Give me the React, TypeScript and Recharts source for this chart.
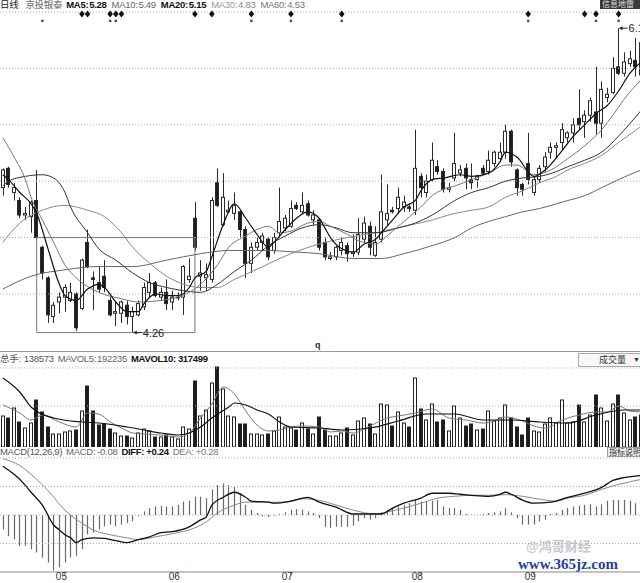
import { Bar, ComposedChart, Line, ReferenceLine, XAxis, YAxis } from "recharts";

const FONT = 'Arial, "Liberation Sans", "Noto Sans CJK SC", sans-serif';

// open, high, low, close for each trading day
const CANDLES: [number, number, number, number][] = [
  [5.16, 5.28, 5.11, 5.27], [5.28, 5.29, 5.16, 5.18], [5.13, 5.19, 5.08, 5.16], [5.08, 5.1, 4.97, 4.99],
  [4.99, 5.04, 4.96, 5.0], [4.98, 5.08, 4.88, 5.07], [5.08, 5.27, 4.84, 4.85], [4.79, 4.8, 4.59, 4.63],
  [4.6, 4.61, 4.32, 4.37], [4.36, 4.45, 4.32, 4.43], [4.45, 4.51, 4.38, 4.48], [4.48, 4.56, 4.39, 4.54],
  [4.46, 4.57, 4.45, 4.51], [4.5, 4.51, 4.27, 4.29], [4.41, 4.72, 4.4, 4.71], [4.82, 4.9, 4.66, 4.67],
  [4.6, 4.64, 4.4, 4.59], [4.57, 4.67, 4.51, 4.53], [4.61, 4.71, 4.51, 4.54], [4.46, 4.48, 4.36, 4.37],
  [4.38, 4.45, 4.3, 4.39], [4.38, 4.46, 4.32, 4.45], [4.43, 4.46, 4.31, 4.36], [4.36, 4.42, 4.26, 4.39],
  [4.37, 4.46, 4.36, 4.44], [4.42, 4.57, 4.4, 4.54], [4.51, 4.63, 4.48, 4.57], [4.57, 4.58, 4.48, 4.49],
  [4.48, 4.54, 4.46, 4.51], [4.51, 4.59, 4.4, 4.44], [4.45, 4.52, 4.4, 4.48], [4.48, 4.51, 4.46, 4.48],
  [4.48, 4.68, 4.37, 4.67], [4.59, 4.72, 4.57, 4.61], [4.97, 5.07, 4.77, 4.79], [4.61, 4.71, 4.52, 4.63],
  [4.6, 4.69, 4.52, 4.62], [4.59, 5.1, 4.57, 5.08], [5.19, 5.28, 5.04, 5.05], [4.93, 5.25, 4.92, 5.1],
  [5.01, 5.08, 5.0, 5.02], [5.0, 5.13, 4.96, 5.05], [5.01, 5.02, 4.85, 4.9], [4.9, 4.92, 4.6, 4.69],
  [4.69, 4.82, 4.63, 4.79], [4.79, 4.85, 4.77, 4.82], [4.82, 4.88, 4.77, 4.86], [4.84, 4.85, 4.71, 4.73],
  [4.77, 4.88, 4.75, 4.85], [4.88, 5.16, 4.85, 4.95], [4.91, 4.99, 4.89, 4.97], [4.92, 5.08, 4.91, 5.03],
  [5.05, 5.07, 5.02, 5.03], [5.01, 5.13, 5.0, 5.05], [5.06, 5.08, 4.98, 4.99], [4.96, 5.02, 4.93, 4.99],
  [4.96, 4.97, 4.77, 4.79], [4.82, 4.85, 4.71, 4.73], [4.72, 4.76, 4.71, 4.73], [4.73, 4.8, 4.71, 4.79],
  [4.77, 4.85, 4.74, 4.82], [4.8, 4.82, 4.7, 4.75], [4.75, 4.87, 4.73, 4.76], [4.76, 4.97, 4.74, 4.87],
  [4.84, 4.98, 4.82, 4.94], [4.92, 4.95, 4.74, 4.79], [4.74, 4.92, 4.73, 4.82], [4.84, 5.24, 4.82, 5.01],
  [4.96, 5.18, 4.92, 5.0], [5.02, 5.04, 5.0, 5.01], [5.03, 5.16, 5.0, 5.1], [5.04, 5.11, 5.01, 5.07],
  [5.04, 5.06, 5.01, 5.03], [5.02, 5.52, 4.99, 5.28], [5.23, 5.25, 5.1, 5.16], [5.13, 5.24, 5.1, 5.2],
  [5.21, 5.44, 5.2, 5.33], [5.29, 5.33, 5.24, 5.26], [5.26, 5.28, 5.13, 5.15], [5.15, 5.19, 5.13, 5.16],
  [5.22, 5.5, 5.2, 5.31], [5.25, 5.3, 5.23, 5.27], [5.28, 5.31, 5.15, 5.22], [5.21, 5.31, 5.15, 5.19],
  [5.21, 5.24, 5.16, 5.23], [5.28, 5.3, 5.24, 5.25], [5.26, 5.39, 5.24, 5.33], [5.31, 5.39, 5.29, 5.38],
  [5.34, 5.44, 5.32, 5.38], [5.38, 5.55, 5.34, 5.51], [5.51, 5.52, 5.29, 5.32], [5.27, 5.28, 5.11, 5.16],
  [5.18, 5.19, 5.11, 5.15], [5.31, 5.5, 5.18, 5.21], [5.13, 5.23, 5.11, 5.21], [5.21, 5.3, 5.19, 5.28],
  [5.29, 5.38, 5.26, 5.35], [5.38, 5.44, 5.34, 5.41], [5.41, 5.44, 5.34, 5.42], [5.44, 5.56, 5.39, 5.52],
  [5.47, 5.51, 5.44, 5.5], [5.5, 5.59, 5.44, 5.55], [5.59, 5.77, 5.52, 5.55], [5.57, 5.64, 5.47, 5.61],
  [5.61, 5.72, 5.57, 5.7], [5.63, 5.91, 5.49, 5.56], [5.56, 5.82, 5.47, 5.77], [5.72, 5.78, 5.69, 5.74],
  [5.75, 5.97, 5.74, 5.9], [5.91, 6.15, 5.86, 5.87], [5.87, 6.0, 5.85, 5.94], [5.93, 6.01, 5.91, 5.96],
  [5.95, 6.09, 5.85, 5.91], [5.86, 6.11, 5.83, 6.06],
];

const VOLUME = [
  310000, 290000, 390000, 250000, 190000, 240000, 470000, 350000, 200000, 130000, 130000, 150000,
  160000, 170000, 360000, 610000, 360000, 220000, 230000, 180000, 140000, 110000, 110000, 90000,
  140000, 180000, 160000, 100000, 100000, 120000, 100000, 80000, 200000, 180000, 660000, 310000,
  370000, 640000, 800000, 580000, 310000, 300000, 230000, 230000, 130000, 130000, 120000, 130000,
  160000, 300000, 200000, 190000, 170000, 240000, 180000, 130000, 300000, 170000, 110000, 110000,
  140000, 190000, 120000, 260000, 290000, 230000, 130000, 430000, 420000, 210000, 350000, 240000,
  200000, 690000, 380000, 270000, 430000, 250000, 270000, 160000, 410000, 290000, 210000, 230000,
  170000, 180000, 360000, 260000, 290000, 420000, 290000, 200000, 120000, 290000, 160000, 150000,
  230000, 290000, 240000, 470000, 240000, 250000, 420000, 250000, 320000, 520000, 390000, 260000,
  430000, 520000, 340000, 270000, 300000, 320000,
];

// moving averages as [day, value]
const MA5: [number, number][] = [
  [0, 5.24], [1, 5.21], [3, 5.13], [5, 5.06], [6, 5.0], [8, 4.78], [10, 4.56], [11, 4.49], [13, 4.46],
  [15, 4.53], [17, 4.56], [18, 4.54], [20, 4.45], [22, 4.39], [24, 4.39], [25, 4.44], [27, 4.5],
  [29, 4.49], [31, 4.49], [33, 4.54], [34, 4.6], [36, 4.64], [37, 4.73], [39, 4.93], [41, 5.06],
  [43, 4.97], [45, 4.87], [47, 4.79], [48, 4.82], [50, 4.9], [52, 4.97], [54, 5.01], [56, 4.97],
  [57, 4.91], [58, 4.85], [60, 4.78], [62, 4.76], [64, 4.81], [66, 4.84], [67, 4.88], [69, 4.96],
  [71, 5.04], [73, 5.08], [74, 5.14], [76, 5.21], [78, 5.22], [81, 5.24], [83, 5.23], [86, 5.25],
  [88, 5.32], [89, 5.38], [91, 5.35], [94, 5.23], [96, 5.27], [99, 5.39], [101, 5.48], [103, 5.55],
  [105, 5.62], [107, 5.67], [109, 5.76], [111, 5.87], [113, 5.94],
];
const MA10: [number, number][] = [
  [0, 5.47], [2, 5.35], [4, 5.21], [5, 5.1], [7, 4.96], [9, 4.82], [11, 4.68], [13, 4.6], [17, 4.51],
  [21, 4.47], [24, 4.45], [28, 4.46], [31, 4.48], [35, 4.56], [38, 4.68], [40, 4.79], [43, 4.86],
  [45, 4.9], [47, 4.92], [49, 4.88], [51, 4.89], [54, 4.94], [56, 4.95], [58, 4.92], [61, 4.87],
  [63, 4.83], [66, 4.81], [68, 4.86], [70, 4.92], [72, 4.98], [74, 5.04], [76, 5.11], [78, 5.15],
  [80, 5.17], [83, 5.21], [86, 5.25], [89, 5.3], [91, 5.3], [94, 5.24], [97, 5.27], [100, 5.34],
  [103, 5.42], [106, 5.52], [108, 5.61], [110, 5.71], [113, 5.83],
];
const MA20: [number, number][] = [
  [0, 5.17], [1, 5.2], [4, 5.23], [7, 5.24], [9, 5.22], [11, 5.13], [12, 5.04], [15, 4.88], [17, 4.78],
  [20, 4.71], [23, 4.63], [26, 4.57], [29, 4.54], [32, 4.52], [35, 4.51], [38, 4.56], [41, 4.64],
  [44, 4.71], [47, 4.8], [50, 4.86], [53, 4.91], [56, 4.93], [59, 4.91], [62, 4.88], [66, 4.88],
  [70, 4.91], [73, 4.94], [76, 4.99], [80, 5.08], [83, 5.13], [86, 5.16], [89, 5.2], [92, 5.22],
  [95, 5.23], [98, 5.26], [100, 5.29], [103, 5.33], [106, 5.38], [109, 5.48], [113, 5.64],
];
const MA30: [number, number][] = [
  [0, 4.82], [3, 4.94], [7, 5.02], [11, 5.05], [15, 5.02], [18, 4.98], [21, 4.88], [23, 4.79],
  [26, 4.69], [29, 4.61], [32, 4.56], [35, 4.54], [38, 4.54], [41, 4.59], [46, 4.67], [51, 4.75],
  [56, 4.81], [61, 4.85], [66, 4.88], [71, 4.92], [75, 4.95], [80, 5.0], [83, 5.02], [86, 5.04],
  [89, 5.1], [92, 5.14], [95, 5.19], [98, 5.23], [100, 5.27], [103, 5.31], [106, 5.36], [109, 5.44],
  [113, 5.54],
];
const MA60: [number, number][] = [
  [0, 4.53], [5, 4.61], [11, 4.65], [17, 4.67], [23, 4.67], [29, 4.71], [35, 4.75], [40, 4.77],
  [46, 4.77], [52, 4.76], [56, 4.75], [62, 4.72], [67, 4.72], [71, 4.75], [76, 4.8], [80, 4.85],
  [83, 4.91], [86, 4.95], [89, 4.98], [92, 5.01], [95, 5.03], [98, 5.06], [100, 5.08], [103, 5.11],
  [106, 5.16], [109, 5.21], [113, 5.27],
];

const MAVOL5: [number, number][] = [
  [0, 420000], [3, 340000], [5, 270000], [7, 320000], [10, 250000], [13, 200000], [15, 340000],
  [17, 330000], [19, 250000], [21, 190000], [23, 140000], [25, 130000], [28, 120000], [31, 100000],
  [33, 140000], [35, 290000], [37, 430000], [39, 600000], [41, 530000], [43, 360000], [45, 220000],
  [47, 160000], [49, 170000], [51, 200000], [53, 210000], [56, 200000], [58, 150000], [60, 160000],
  [62, 140000], [65, 210000], [68, 290000], [70, 310000], [73, 340000], [76, 380000], [79, 290000],
  [82, 270000], [85, 240000], [87, 260000], [89, 300000], [92, 260000], [94, 210000], [96, 190000],
  [99, 270000], [102, 320000], [105, 350000], [107, 350000], [109, 410000], [111, 360000], [113, 350000],
];
const MAVOL10: [number, number][] = [
  [0, 690000], [3, 550000], [5, 400000], [9, 290000], [14, 250000], [17, 240000], [22, 200000],
  [25, 170000], [28, 140000], [31, 120000], [33, 140000], [35, 200000], [37, 290000], [40, 400000],
  [41, 440000], [43, 420000], [45, 370000], [47, 330000], [49, 250000], [51, 200000], [56, 190000],
  [60, 170000], [65, 190000], [70, 260000], [75, 330000], [80, 330000], [85, 270000], [90, 270000],
  [95, 250000], [100, 240000], [105, 320000], [110, 370000], [113, 370000],
];

const MACD_HIST = [
  -0.071, -0.104, -0.12, -0.152, -0.152, -0.168, -0.184, -0.209, -0.233, -0.273, -0.257, -0.233,
  -0.209, -0.2, -0.168, -0.095, -0.087, -0.071, -0.055, -0.047, -0.055, -0.047, -0.039, -0.031,
  -0.006, 0.018, 0.034, 0.042, 0.045, 0.042, 0.042, 0.05, 0.066, 0.07, 0.09, 0.09,
  0.083, 0.126, 0.147, 0.155, 0.147, 0.139, 0.107, 0.05, 0.026, 0.01, -0.006, -0.01,
  -0.003, 0.006, 0.013, 0.026, 0.029, 0.026, 0.018, 0.01, -0.015, -0.058, -0.063, -0.058,
  -0.058, -0.058, -0.052, -0.031, -0.015, -0.023, -0.015, 0.013, 0.023, 0.034, 0.042, 0.05,
  0.058, 0.074, 0.066, 0.066, 0.07, 0.074, 0.042, 0.034, 0.034, 0.026, 0.006, 0.002,
  0.002, 0.006, 0.01, 0.013, 0.018, 0.034, 0.013, -0.015, -0.047, -0.047, -0.047, -0.031,
  -0.023, 0.006, 0.01, 0.026, 0.034, 0.042, 0.045, 0.05, 0.053, 0.042, 0.053, 0.07,
  0.074, 0.074, 0.074, 0.07, 0.058, 0.05,
];
const DIFF: [number, number][] = [
  [0, 0.24], [2, 0.2], [4, 0.146], [5, 0.112], [7, 0.049], [9, -0.049], [10, -0.073], [11, -0.097],
  [12, -0.112], [13, -0.136], [14, -0.121], [16, -0.112], [18, -0.115], [20, -0.126], [22, -0.136],
  [24, -0.121], [26, -0.107], [28, -0.087], [30, -0.082], [33, -0.058], [35, -0.024], [36, -0.01],
  [37, 0.049], [39, 0.087], [41, 0.112], [43, 0.087], [44, 0.068], [47, 0.063], [48, 0.058],
  [51, 0.068], [54, 0.087], [56, 0.063], [59, 0.039], [62, 0.005], [65, 0.005], [67, 0.005],
  [69, 0.034], [71, 0.058], [74, 0.083], [76, 0.107], [79, 0.107], [81, 0.102], [83, 0.097],
  [86, 0.092], [88, 0.102], [89, 0.112], [90, 0.102], [92, 0.073], [94, 0.058], [97, 0.063],
  [100, 0.087], [103, 0.107], [106, 0.136], [108, 0.17], [110, 0.184], [113, 0.194],
];
const DEA: [number, number][] = [
  [0, 0.277], [3, 0.243], [5, 0.2], [8, 0.12], [11, 0.024], [14, -0.04], [16, -0.073], [19, -0.097],
  [22, -0.112], [24, -0.121], [27, -0.107], [30, -0.092], [34, -0.063], [36, -0.034], [38, 0.01],
  [41, 0.049], [43, 0.063], [47, 0.063], [50, 0.063], [53, 0.08], [56, 0.072], [59, 0.049],
  [62, 0.024], [66, 0.005], [68, 0.015], [71, 0.034], [74, 0.058], [77, 0.083], [80, 0.092],
  [83, 0.097], [86, 0.097], [89, 0.1], [92, 0.092], [95, 0.078], [98, 0.068], [100, 0.083],
  [103, 0.097], [106, 0.126], [109, 0.15], [113, 0.175],
];

const DIAMOND_DAYS = [14, 15, 19, 20, 21, 34, 37, 44, 51, 60, 93, 103, 105, 109];
const STAR_DAYS = [7, 19, 20, 44, 51, 60, 93, 105, 109];
const LOW_MARK_DAY = 23;
const HIGH_MARK_DAY = 109;
const BOX_DAYS = [6, 34];
const BOX_PRICES = [4.26, 4.85];

const PRICE_GRID = [4.5, 4.85, 5.2, 5.55, 5.9, 6.25];
const VOL_GRID = [790000, 410000];
const MACD_GRID = [0.28, 0.14, 0, -0.14];
const MONTH_TICKS = [11, 31, 51, 74, 94];
const MONTH_LABELS = ["05", "06", "07", "08", "09"];

// header strips: [text, bold, colour, gap after]
type Seg = [string, boolean, string, number];
const PRICE_HEAD: Seg[] = [
  ["日线", false, "#222", 7], ["京投银泰", false, "#666", 4],
  ["MA5:", true, "#111", 1], ["5.28", true, "#111", 5],
  ["MA10:", false, "#666", 1], ["5.49", false, "#666", 5],
  ["MA20:", true, "#111", 1], ["5.15", true, "#111", 5],
  ["MA30:", false, "#999", 1], ["4.83", false, "#888", 5],
  ["MA60:", false, "#777", 1], ["4.53", false, "#777", 0],
];
const VOL_HEAD: Seg[] = [
  ["总手:", false, "#555", 3], ["138573", false, "#555", 4],
  ["MAVOL5:", false, "#666", 1], ["192235", false, "#666", 4],
  ["MAVOL10:", true, "#111", 2], ["317499", true, "#111", 0],
];
const MACD_HEAD: Seg[] = [
  ["MACD(12,26,9)", false, "#555", 4], ["MACD:", false, "#666", 2], ["-0.08", false, "#666", 4],
  ["DIFF:", true, "#111", 2], ["+0.24", true, "#111", 4],
  ["DEA:", false, "#777", 2], ["+0.28", false, "#777", 0],
];

const DIAMOND_LEVEL = 6.238;
const STAR_LEVEL = 6.195;

const lookup = (pts: [number, number][]) => new Map(pts);
const m5 = lookup(MA5), m10 = lookup(MA10), m20 = lookup(MA20), m30 = lookup(MA30), m60 = lookup(MA60);
const mv5 = lookup(MAVOL5), mv10 = lookup(MAVOL10), dif = lookup(DIFF), dea = lookup(DEA);

const rows = CANDLES.map(([open, high, low, close], day) => ({
  day,
  open,
  high,
  low,
  close,
  range: [low, high],
  ma5: m5.get(day) ?? null,
  ma10: m10.get(day) ?? null,
  ma20: m20.get(day) ?? null,
  ma30: m30.get(day) ?? null,
  ma60: m60.get(day) ?? null,
  vol: VOLUME[day],
  mavol5: mv5.get(day) ?? null,
  mavol10: mv10.get(day) ?? null,
  hist: MACD_HIST[day],
  diff: dif.get(day) ?? null,
  dea: dea.get(day) ?? null,
  diamond: DIAMOND_DAYS.includes(day) ? DIAMOND_LEVEL : null,
  star: STAR_DAYS.includes(day) ? STAR_LEVEL : null,
  lowMark: day === LOW_MARK_DAY ? low : null,
  highMark: day === HIGH_MARK_DAY ? high : null,
}));

const NO_MARGIN = { top: 0, right: 0, bottom: 0, left: 0 };

function CandleShape(props: any) {
  const { x, y, width, height, payload } = props;
  const top = Math.min(y, y + height);
  const bottom = Math.max(y, y + height);
  const span = payload.high - payload.low || 1;
  const toY = (v: number) => top + ((payload.high - v) / span) * (bottom - top);
  const cx = Math.floor(x + width / 2) + 0.5;
  const up = payload.close >= payload.open;
  const bTop = toY(Math.max(payload.open, payload.close));
  const bBot = toY(Math.min(payload.open, payload.close));
  return (
    <g>
      <line x1={cx} x2={cx} y1={top} y2={bottom} stroke="#2a2a2a" />
      <rect
        x={cx - 2}
        y={bTop}
        width={3}
        height={Math.max(0.8, bBot - bTop)}
        fill={up ? "#fff" : "#1c1c1c"}
        stroke="#2a2a2a"
      />
    </g>
  );
}

function VolShape(props: any) {
  const { x, y, width, height, payload } = props;
  const cx = Math.floor(x + width / 2) + 0.5;
  const up = payload.close >= payload.open;
  return (
    <rect
      x={cx - 2}
      y={y}
      width={3}
      height={Math.max(0, height)}
      fill={up ? "#fff" : "#1c1c1c"}
      stroke="#222"
    />
  );
}

function HistShape(props: any) {
  const { x, y, width, height } = props;
  const cx = Math.floor(x + width / 2) + 0.5;
  return <line x1={cx} x2={cx} y1={y} y2={y + height} stroke="#6a6a6a" strokeWidth={1.2} />;
}

const diamondDot = (p: any) => {
  if (p.value == null || p.cy == null) return <g key={p.index} />;
  const { cx, cy } = p;
  return (
    <path
      key={p.index}
      d={`M${cx},${cy - 3.5} L${cx + 2.8},${cy} L${cx},${cy + 3.5} L${cx - 2.8},${cy} Z`}
      fill="#111"
    />
  );
};

const starDot = (p: any) => {
  if (p.value == null || p.cy == null) return <g key={p.index} />;
  return <circle key={p.index} cx={p.cx} cy={p.cy} r={1.4} fill="#555" />;
};

const extremeDot = (p: any) => {
  if (p.value == null || p.cy == null) return <g key={p.index} />;
  const { cx, cy } = p;
  return (
    <g key={p.index}>
      <line x1={cx + 1} x2={cx + 9} y1={cy} y2={cy} stroke="#222" />
      <path d={`M${cx + 0.5},${cy} l3.5,-2 l0,4 z`} fill="#222" />
      <text x={cx + 10} y={cy + 4} fontSize={11} fill="#222" fontFamily={FONT}>
        {Number(p.value).toFixed(2)}
      </text>
    </g>
  );
};

function MonthTick(props: any) {
  const { x, y, payload } = props;
  const label = MONTH_LABELS[MONTH_TICKS.indexOf(payload.value)];
  return (
    <text x={x + 2} y={y + 3} textAnchor="end" fontSize={10} fill="#333" fontFamily={FONT}>
      {label}
    </text>
  );
}

function Head({ top, segs }: { top: number; segs: Seg[] }) {
  return (
    <div
      style={{
        position: "absolute",
        left: 0,
        top,
        display: "flex",
        alignItems: "baseline",
        whiteSpace: "nowrap",
        lineHeight: "10px",
        fontSize: 9.5,
        letterSpacing: -0.3,
      }}
    >
      {segs.map(([t, b, c, gap], i) => (
        <span key={i} style={{ fontWeight: b ? 700 : 400, color: c, marginRight: gap }}>
          {t}
        </span>
      ))}
    </div>
  );
}

const maLine = (key: string, color: string, w = 1) => (
  <Line
    key={key}
    dataKey={key}
    type="monotone"
    stroke={color}
    strokeWidth={w}
    dot={false}
    activeDot={false}
    connectNulls
    isAnimationActive={false}
  />
);

export default function App() {
  return (
    <div
      style={{
        position: "absolute",
        left: 0,
        top: 0,
        width: 640,
        height: 583,
        overflow: "hidden",
        background: "#fff",
        fontFamily: FONT,
      }}
    >
      <div style={{ position: "absolute", left: 0, top: 0 }}>
        <ComposedChart width={644} height={345} data={rows} margin={NO_MARGIN}>
          <XAxis dataKey="day" hide />
          <YAxis hide domain={[4.183, 6.325]} allowDataOverflow />
          {PRICE_GRID.map((v) => (
            <ReferenceLine key={v} y={v} stroke="#aaa" strokeDasharray="1 2" />
          ))}
          <ReferenceLine segment={[{ x: BOX_DAYS[0], y: BOX_PRICES[1] }, { x: BOX_DAYS[1], y: BOX_PRICES[1] }]} stroke="#777" />
          <ReferenceLine segment={[{ x: BOX_DAYS[0], y: BOX_PRICES[0] }, { x: BOX_DAYS[1], y: BOX_PRICES[0] }]} stroke="#777" />
          <ReferenceLine segment={[{ x: BOX_DAYS[0], y: BOX_PRICES[0] }, { x: BOX_DAYS[0], y: BOX_PRICES[1] }]} stroke="#777" />
          <ReferenceLine segment={[{ x: BOX_DAYS[1], y: BOX_PRICES[0] }, { x: BOX_DAYS[1], y: BOX_PRICES[1] }]} stroke="#777" />
          {maLine("ma60", "#666")}
          {maLine("ma30", "#888")}
          {maLine("ma20", "#333")}
          {maLine("ma10", "#777")}
          <Bar dataKey="range" barSize={4} shape={CandleShape} isAnimationActive={false} />
          {maLine("ma5", "#111", 1.2)}
          <Line dataKey="diamond" stroke="none" dot={diamondDot} activeDot={false} isAnimationActive={false} />
          <Line dataKey="star" stroke="none" dot={starDot} activeDot={false} isAnimationActive={false} />
          <Line dataKey="lowMark" stroke="none" dot={extremeDot} activeDot={false} isAnimationActive={false} />
          <Line dataKey="highMark" stroke="none" dot={extremeDot} activeDot={false} isAnimationActive={false} />
        </ComposedChart>
      </div>

      <div style={{ position: "absolute", left: 0, top: 365 }}>
        <ComposedChart width={644} height={82} data={rows} margin={NO_MARGIN}>
          <XAxis dataKey="day" hide />
          <YAxis hide domain={[0, 820000]} allowDataOverflow />
          {VOL_GRID.map((v) => (
            <ReferenceLine key={v} y={v} stroke="#aaa" strokeDasharray="1 2" />
          ))}
          <Bar dataKey="vol" barSize={4} shape={VolShape} isAnimationActive={false} />
          {maLine("mavol5", "#777")}
          {maLine("mavol10", "#111", 1.2)}
        </ComposedChart>
      </div>

      <div style={{ position: "absolute", left: 0, top: 456 }}>
        <ComposedChart width={644} height={127} data={rows} margin={NO_MARGIN}>
          <XAxis
            dataKey="day"
            ticks={MONTH_TICKS}
            interval={0}
            height={11}
            tick={MonthTick}
            tickSize={3}
            tickLine={{ stroke: "#666" }}
            axisLine={{ stroke: "#888" }}
          />
          <YAxis hide domain={[-0.28, 0.29]} allowDataOverflow />
          {MACD_GRID.map((v) => (
            <ReferenceLine key={v} y={v} stroke="#aaa" strokeDasharray="1 2" />
          ))}
          <Bar dataKey="hist" barSize={4} shape={HistShape} isAnimationActive={false} />
          {maLine("dea", "#888")}
          {maLine("diff", "#111", 1.3)}
        </ComposedChart>
      </div>

      <Head top={0} segs={PRICE_HEAD} />
      <div
        style={{
          position: "absolute",
          left: 600,
          top: 0,
          width: 40,
          height: 9,
          background: "#3a3a3a",
          color: "#ddd",
          fontSize: 8,
          lineHeight: "9px",
          whiteSpace: "nowrap",
          overflow: "hidden",
          paddingLeft: 2,
          boxSizing: "border-box",
        }}
      >
        信息地雷
      </div>

      <div style={{ position: "absolute", left: 315, top: 341, fontSize: 9, fontWeight: 700, color: "#333", lineHeight: "9px" }}>
        q
      </div>
      <div style={{ position: "absolute", left: 0, top: 351, width: 640, height: 1, background: "#999" }} />

      <Head top={354} segs={VOL_HEAD} />
      <div
        style={{
          position: "absolute",
          left: 578,
          top: 353,
          width: 61,
          height: 12,
          border: "1px solid #aaa",
          background: "#f7f7f7",
          fontSize: 9,
          lineHeight: "12px",
          color: "#333",
        }}
      >
        <span style={{ position: "absolute", left: 20 }}>成交量</span>
        <span style={{ position: "absolute", left: 54, fontSize: 7 }}>▼</span>
      </div>

      <Head top={447} segs={MACD_HEAD} />
      <div
        style={{
          position: "absolute",
          left: 607,
          top: 447,
          width: 33,
          height: 10,
          border: "1px solid #999",
          borderRight: "none",
          background: "#eee",
          fontSize: 8,
          lineHeight: "10px",
          color: "#333",
          whiteSpace: "nowrap",
          overflow: "hidden",
          paddingLeft: 1,
          boxSizing: "border-box",
        }}
      >
        指标说明
      </div>

      {/* watermark */}
      <div
        style={{
          position: "absolute",
          left: 526,
          top: 540,
          fontSize: 13,
          lineHeight: "14px",
          fontWeight: 700,
          color: "rgba(180,180,180,0.75)",
          whiteSpace: "nowrap",
        }}
      >
        @鸿哥财经
      </div>
      <div
        style={{
          position: "absolute",
          left: 518,
          top: 556,
          fontSize: 15,
          lineHeight: "16px",
          fontWeight: 700,
          fontFamily: '"Liberation Serif", "DejaVu Serif", serif',
          color: "#1f3f9f",
          whiteSpace: "nowrap",
          textShadow: "0 0 2px #fff, 0 0 2px #fff",
        }}
      >
        www.365jz.com
      </div>
    </div>
  );
}
